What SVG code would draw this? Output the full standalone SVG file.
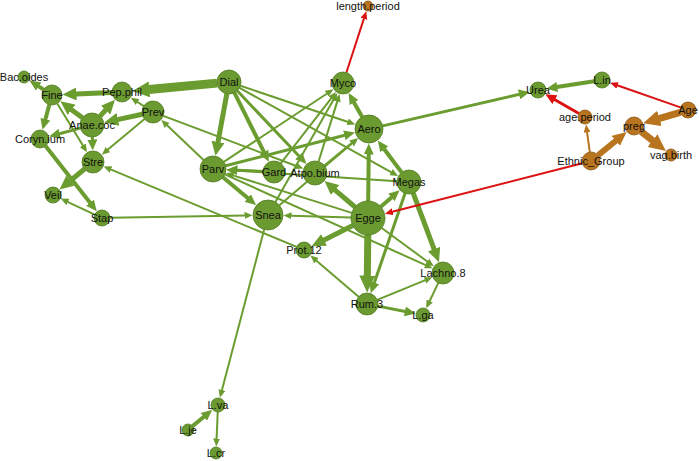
<svg xmlns="http://www.w3.org/2000/svg" width="699" height="461" viewBox="0 0 699 461">
<style>
.g{stroke:#6b9c2f;fill:none}
.r{stroke:#dd1111;fill:none}
.o{stroke:#b8741e;fill:none}
.ng{fill:#6b9a30;stroke:#4f7a1e;stroke-width:0.8}
.no{fill:#b8741e;stroke:#8a5512;stroke-width:0.8}
text{font-family:"Liberation Sans",Arial,sans-serif;font-size:11px;fill:#111;text-anchor:middle;dominant-baseline:central}
</style>
<defs>
<marker id="gS" markerUnits="userSpaceOnUse" markerWidth="8" markerHeight="7" viewBox="0 -3.5 8 7" refX="0.5" refY="0" orient="auto"><path d="M0,-3.5L8,0L0,3.5z" fill="#6b9c2f"/></marker>
<marker id="gM" markerUnits="userSpaceOnUse" markerWidth="11" markerHeight="10" viewBox="0 -5 11 10" refX="0.5" refY="0" orient="auto"><path d="M0,-5L11,0L0,5z" fill="#6b9c2f"/></marker>
<marker id="gL" markerUnits="userSpaceOnUse" markerWidth="14" markerHeight="13" viewBox="0 -6.5 14 13" refX="0.5" refY="0" orient="auto"><path d="M0,-6.5L14,0L0,6.5z" fill="#6b9c2f"/></marker>
<marker id="gX" markerUnits="userSpaceOnUse" markerWidth="17" markerHeight="16" viewBox="0 -8 17 16" refX="0.5" refY="0" orient="auto"><path d="M0,-8L17,0L0,8z" fill="#6b9c2f"/></marker>
<marker id="rS" markerUnits="userSpaceOnUse" markerWidth="8" markerHeight="7" viewBox="0 -3.5 8 7" refX="0.5" refY="0" orient="auto"><path d="M0,-3.5L8,0L0,3.5z" fill="#dd1111"/></marker>
<marker id="rM" markerUnits="userSpaceOnUse" markerWidth="11" markerHeight="10" viewBox="0 -5 11 10" refX="0.5" refY="0" orient="auto"><path d="M0,-5L11,0L0,5z" fill="#dd1111"/></marker>
<marker id="oS" markerUnits="userSpaceOnUse" markerWidth="8" markerHeight="7" viewBox="0 -3.5 8 7" refX="0.5" refY="0" orient="auto"><path d="M0,-3.5L8,0L0,3.5z" fill="#b8741e"/></marker>
<marker id="oL" markerUnits="userSpaceOnUse" markerWidth="14" markerHeight="13" viewBox="0 -6.5 14 13" refX="0.5" refY="0" orient="auto"><path d="M0,-6.5L14,0L0,6.5z" fill="#b8741e"/></marker>
<marker id="oX" markerUnits="userSpaceOnUse" markerWidth="17" markerHeight="16" viewBox="0 -8 17 16" refX="0.5" refY="0" orient="auto"><path d="M0,-8L17,0L0,8z" fill="#b8741e"/></marker>
</defs>
<g id="edges">
<line class="g" stroke-width="9" x1="217.05" y1="83.12" x2="148.88" y2="89.49" marker-end="url(#gX)"/>
<line class="g" stroke-width="5" x1="112.01" y1="92.43" x2="75.98" y2="93.97" marker-end="url(#gL)"/>
<line class="g" stroke-width="4" x1="43.59" y1="89.59" x2="38.30" y2="86.19" marker-end="url(#gM)"/>
<line class="g" stroke-width="5" x1="82.4" y1="117.8" x2="71.2" y2="109.4" marker-end="url(#gL)"/>
<line class="g" stroke-width="5" x1="100.07" y1="116.12" x2="105.86" y2="109.76" marker-end="url(#gL)"/>
<line class="g" stroke-width="2" x1="143.76" y1="106.04" x2="137.13" y2="101.76" marker-end="url(#gS)"/>
<line class="g" stroke-width="5" x1="142.24" y1="114.29" x2="117.43" y2="119.58" marker-end="url(#gL)"/>
<line class="g" stroke-width="3" x1="80.41" y1="128.12" x2="59.31" y2="133.8" marker-end="url(#gM)"/>
<line class="g" stroke-width="3" x1="92.32" y1="137.0" x2="92.41" y2="140.01" marker-end="url(#gM)"/>
<line class="g" stroke-width="4" x1="49.37" y1="104.65" x2="45.26" y2="119.71" marker-end="url(#gM)"/>
<line class="g" stroke-width="2" x1="57.22" y1="103.53" x2="83.08" y2="145.79" marker-end="url(#gS)"/>
<line class="g" stroke-width="2" x1="144.55" y1="119.04" x2="107.6" y2="149.84" marker-end="url(#gS)"/>
<line class="g" stroke-width="5" x1="84.51" y1="169.0" x2="69.97" y2="181.0" marker-end="url(#gL)"/>
<line class="g" stroke-width="2" x1="94.76" y1="214.6" x2="67.48" y2="201.8" marker-end="url(#gS)"/>
<line class="g" stroke-width="4" x1="45.56" y1="146.08" x2="90.27" y2="203.05" marker-end="url(#gM)"/>
<line class="g" stroke-width="2" x1="110" y1="217.86" x2="245.0" y2="215.42" marker-end="url(#gS)"/>
<line class="g" stroke-width="2" x1="296.62" y1="246.92" x2="110.54" y2="169.31" marker-end="url(#gS)"/>
<line class="g" stroke-width="2" x1="163.29" y1="115.88" x2="296.28" y2="165.95" marker-end="url(#gS)"/>
<line class="g" stroke-width="2" x1="203.57" y1="160.05" x2="166.78" y2="125.09" marker-end="url(#gS)"/>
<line class="g" stroke-width="5" x1="226.83" y1="93.8" x2="217.88" y2="142.45" marker-end="url(#gL)"/>
<line class="g" stroke-width="4" x1="234.37" y1="92.73" x2="264.16" y2="152.32" marker-end="url(#gM)"/>
<line class="g" stroke-width="3" x1="237.24" y1="90.72" x2="299.2" y2="156.28" marker-end="url(#gM)"/>
<line class="g" stroke-width="2" x1="239.49" y1="87.83" x2="391.52" y2="172.29" marker-end="url(#gS)"/>
<line class="g" stroke-width="2" x1="240.38" y1="85.82" x2="348.14" y2="122.0" marker-end="url(#gS)"/>
<line class="g" stroke-width="4" x1="222.97" y1="177.34" x2="248.06" y2="198.32" marker-end="url(#gM)"/>
<line class="g" stroke-width="2" x1="223.84" y1="161.83" x2="327.15" y2="93.48" marker-end="url(#gS)"/>
<line class="g" stroke-width="3" x1="225.59" y1="165.77" x2="344.78" y2="135.21" marker-end="url(#gM)"/>
<line class="g" stroke-width="3" x1="263.01" y1="171.46" x2="236.97" y2="170.18" marker-end="url(#gM)"/>
<line class="g" stroke-width="2" x1="351.79" y1="212.88" x2="233.02" y2="175.33" marker-end="url(#gS)"/>
<line class="g" stroke-width="2" x1="397" y1="181.2" x2="234" y2="170.4" marker-end="url(#gS)"/>
<line class="g" stroke-width="2" x1="224.85" y1="174.36" x2="425.69" y2="265.17" marker-end="url(#gS)"/>
<line class="g" stroke-width="5" x1="355.04" y1="207.0" x2="334.82" y2="189.83" marker-end="url(#gL)"/>
<line class="g" stroke-width="2" x1="351.01" y1="217.49" x2="290.99" y2="215.69" marker-end="url(#gS)"/>
<line class="g" stroke-width="4" x1="368.19" y1="201.0" x2="368.72" y2="154.0" marker-end="url(#gM)"/>
<line class="g" stroke-width="4" x1="380.78" y1="206.78" x2="391.72" y2="197.18" marker-end="url(#gM)"/>
<line class="g" stroke-width="5" x1="352.8" y1="225.6" x2="323.68" y2="240.16" marker-end="url(#gL)"/>
<line class="g" stroke-width="7" x1="367.8" y1="235.0" x2="367.32" y2="276.0" marker-end="url(#gX)"/>
<line class="g" stroke-width="2" x1="381.71" y1="228.05" x2="427.68" y2="261.76" marker-end="url(#gS)"/>
<line class="g" stroke-width="4" x1="401.77" y1="172.42" x2="384.06" y2="148.96" marker-end="url(#gM)"/>
<line class="g" stroke-width="5" x1="413.2" y1="193.24" x2="434.25" y2="249.58" marker-end="url(#gL)"/>
<line class="g" stroke-width="3" x1="405.09" y1="193.35" x2="374.16" y2="283.2" marker-end="url(#gM)"/>
<line class="g" stroke-width="4" x1="362.11" y1="116.81" x2="353.82" y2="102.15" marker-end="url(#gM)"/>
<line class="g" stroke-width="3" x1="382.64" y1="125.85" x2="519.49" y2="94.27" marker-end="url(#gM)"/>
<line class="g" stroke-width="2" x1="275.41" y1="201.96" x2="333.61" y2="99.52" marker-end="url(#gS)"/>
<line class="g" stroke-width="2" x1="318.57" y1="161.54" x2="337.36" y2="101.14" marker-end="url(#gS)"/>
<line class="g" stroke-width="2" x1="280.74" y1="163.31" x2="331.36" y2="98.02" marker-end="url(#gS)"/>
<line class="g" stroke-width="2" x1="279.42" y1="205.28" x2="352.25" y2="143.26" marker-end="url(#gS)"/>
<line class="g" stroke-width="2" x1="324.3" y1="165.42" x2="351.95" y2="142.9" marker-end="url(#gS)"/>
<line class="g" stroke-width="2" x1="264.18" y1="229.51" x2="221.82" y2="390.49" marker-end="url(#gS)"/>
<line class="g" stroke-width="4" x1="192.61" y1="426.16" x2="204.17" y2="416.52" marker-end="url(#gM)"/>
<line class="g" stroke-width="2" x1="217.71" y1="411.99" x2="216.58" y2="439.01" marker-end="url(#gS)"/>
<line class="g" stroke-width="2" x1="358.65" y1="296.84" x2="316.15" y2="260.41" marker-end="url(#gS)"/>
<line class="g" stroke-width="2" x1="377.19" y1="299.85" x2="425.41" y2="280.18" marker-end="url(#gS)"/>
<line class="g" stroke-width="3" x1="377.79" y1="306.12" x2="405.34" y2="311.53" marker-end="url(#gM)"/>
<line class="g" stroke-width="2" x1="438.27" y1="282.93" x2="429.45" y2="301.46" marker-end="url(#gS)"/>
<line class="g" stroke-width="4" x1="594.1" y1="81.24" x2="556.77" y2="87.07" marker-end="url(#gM)"/>
<line class="r" stroke-width="2" x1="346.4" y1="72.54" x2="363.99" y2="18.36" marker-end="url(#rS)"/>
<line class="r" stroke-width="2" x1="680.45" y1="107.36" x2="617.11" y2="85.27" marker-end="url(#rS)"/>
<line class="r" stroke-width="3" x1="578.93" y1="113.51" x2="554.48" y2="99.47" marker-end="url(#rM)"/>
<line class="r" stroke-width="2" x1="582.28" y1="163.23" x2="392.22" y2="211.81" marker-end="url(#rS)"/>
<line class="o" stroke-width="7" x1="680.33" y1="112.27" x2="658.93" y2="118.61" marker-end="url(#oX)"/>
<line class="o" stroke-width="7" x1="641.08" y1="131.55" x2="652.9" y2="140.81" marker-end="url(#oX)"/>
<line class="o" stroke-width="6" x1="597.98" y1="155.32" x2="616.16" y2="140.52" marker-end="url(#oL)"/>
<line class="o" stroke-width="2" x1="589.78" y1="152.08" x2="587.03" y2="131.86" marker-end="url(#oS)"/>
</g>
<g id="n-Bac.oides"><circle class="ng" cx="24" cy="77" r="6"/><text x="24" y="77">Bac.oides</text></g>
<g id="n-Fine"><circle class="ng" cx="52" cy="95" r="10"/><text x="52" y="95">Fine</text></g>
<g id="n-Pep.phil"><circle class="ng" cx="122" cy="92" r="10"/><text x="122" y="92">Pep.phil</text></g>
<g id="n-Prev"><circle class="ng" cx="153" cy="112" r="11"/><text x="153" y="112">Prev</text></g>
<g id="n-Anae.coc"><circle class="ng" cx="92" cy="125" r="12"/><text x="92" y="125">Anae.coc</text></g>
<g id="n-Coryn.ium"><circle class="ng" cx="40" cy="139" r="9"/><text x="40" y="139">Coryn.ium</text></g>
<g id="n-Stre"><circle class="ng" cx="93" cy="162" r="11"/><text x="93" y="162">Stre</text></g>
<g id="n-Veil"><circle class="ng" cx="53" cy="195" r="8"/><text x="53" y="195">Veil</text></g>
<g id="n-Stap"><circle class="ng" cx="102" cy="218" r="8"/><text x="102" y="218">Stap</text></g>
<g id="n-Dial"><circle class="ng" cx="229" cy="82" r="12"/><text x="229" y="82">Dial</text></g>
<g id="n-Myco"><circle class="ng" cx="343" cy="83" r="11"/><text x="343" y="83">Myco</text></g>
<g id="n-Aero"><circle class="ng" cx="369" cy="129" r="14"/><text x="369" y="129">Aero</text></g>
<g id="n-Parv"><circle class="ng" cx="213" cy="169" r="13"/><text x="213" y="169">Parv</text></g>
<g id="n-Gard"><circle class="ng" cx="274" cy="172" r="11"/><text x="274" y="172">Gard</text></g>
<g id="n-Atpo.bium"><circle class="ng" cx="315" cy="173" r="12"/><text x="315" y="173">Atpo.bium</text></g>
<g id="n-Megas"><circle class="ng" cx="409" cy="182" r="12"/><text x="409" y="182">Megas</text></g>
<g id="n-Snea"><circle class="ng" cx="268" cy="215" r="15"/><text x="268" y="215">Snea</text></g>
<g id="n-Egge"><circle class="ng" cx="368" cy="218" r="17"/><text x="368" y="218">Egge</text></g>
<g id="n-Prot.12"><circle class="ng" cx="304" cy="250" r="8"/><text x="304" y="250">Prot.12</text></g>
<g id="n-Lachno.8"><circle class="ng" cx="443" cy="273" r="11"/><text x="443" y="273">Lachno.8</text></g>
<g id="n-Rum.3"><circle class="ng" cx="367" cy="304" r="11"/><text x="367" y="304">Rum.3</text></g>
<g id="n-L.ga"><circle class="ng" cx="423" cy="315" r="7"/><text x="423" y="315">L.ga</text></g>
<g id="n-L.va"><circle class="ng" cx="218" cy="405" r="7"/><text x="218" y="405">L.va</text></g>
<g id="n-L.je"><circle class="ng" cx="188" cy="430" r="6"/><text x="188" y="430">L.je</text></g>
<g id="n-L.cr"><circle class="ng" cx="216" cy="453" r="6"/><text x="216" y="453">L.cr</text></g>
<g id="n-length.period"><circle class="no" cx="368" cy="6" r="5"/><text x="368" y="6">length.period</text></g>
<g id="n-Urea"><circle class="ng" cx="538" cy="90" r="8"/><text x="538" y="90">Urea</text></g>
<g id="n-L.in"><circle class="ng" cx="602" cy="80" r="8"/><text x="602" y="80">L.in</text></g>
<g id="n-Age"><circle class="no" cx="688" cy="110" r="8"/><text x="688" y="110">Age</text></g>
<g id="n-age.period"><circle class="no" cx="585" cy="117" r="7"/><text x="585" y="117">age.period</text></g>
<g id="n-preg"><circle class="no" cx="634" cy="126" r="9"/><text x="634" y="126">preg</text></g>
<g id="n-vag.birth"><circle class="no" cx="671" cy="155" r="6"/><text x="671" y="155">vag.birth</text></g>
<g id="n-Ethnic_Group"><circle class="no" cx="591" cy="161" r="9"/><text x="591" y="161">Ethnic_Group</text></g>
</svg>
